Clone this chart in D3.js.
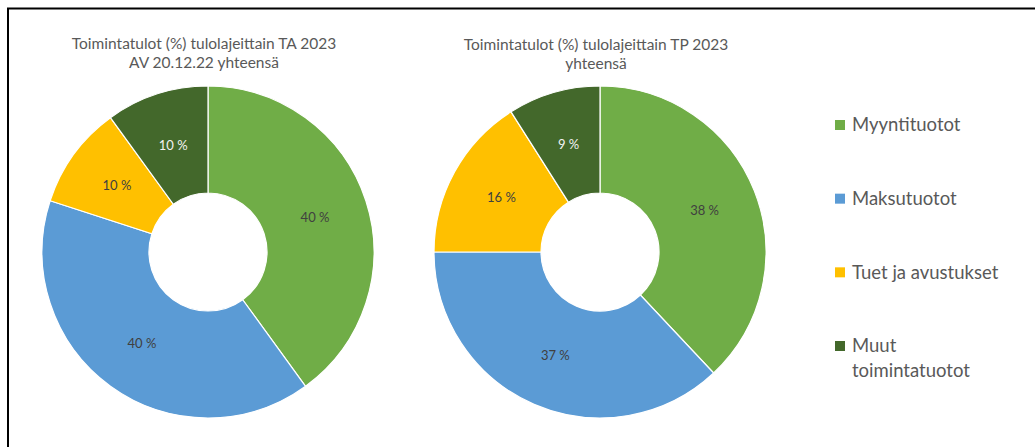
<!DOCTYPE html>
<html>
<head>
<meta charset="utf-8">
<script src="https://cdn.jsdelivr.net/npm/d3@7"></script>
<style>
  body { margin: 0; background: #fff; }
  text { font-family: Lato, "Noto Sans", sans-serif; }
</style>
</head>
<body>
<div id="chart"></div>
<script>
// categories + values
var categories = ["Myyntituotot", "Maksutuotot", "Tuet ja avustukset", "Muut toimintatuotot"];
var valuesTA = [40, 40, 10, 10];
var valuesTP = [38, 37, 16, 9];
var titleTA = ["Toimintatulot (%) tulolajeittain TA 2023", "AV 20.12.22 yhteensä"];
var titleTP = ["Toimintatulot (%) tulolajeittain TP 2023", "yhteensä"];
var legendLines = [["Myyntituotot"], ["Maksutuotot"], ["Tuet ja avustukset"], ["Muut", "toimintatuotot"]];

var width = 1035, height = 447;
var outerR = 166, innerR = 59;

var color = d3.scaleOrdinal()
  .domain(categories)
  .range(["#70AD47", "#5B9BD5", "#FFC000", "#43682B"]);

var svg = d3.select("#chart").append("svg")
  .attr("width", width)
  .attr("height", height);

// frame (only top + left visible in the picture)
svg.append("rect")
  .attr("x", 8)
  .attr("y", 8.5)
  .attr("width", 1200)
  .attr("height", 600)
  .attr("fill", "none")
  .attr("stroke", "#000")
  .attr("stroke-width", 2);

var pie = d3.pie().sort(null);
var arc = d3.arc().innerRadius(innerR).outerRadius(outerR);

function drawDonut(values, title, cx, cy, titleY) {
  var g = svg.append("g").attr("transform", "translate(" + cx + "," + cy + ")");

  var slices = pie(values);

  g.selectAll("path")
    .data(slices)
    .enter().append("path")
    .attr("d", arc)
    .attr("fill", function(d, i) { return color(categories[i]); })
    .attr("stroke", "#fff")
    .attr("stroke-width", 1.2);

  g.selectAll("text.lbl")
    .data(slices)
    .enter().append("text")
    .attr("class", "lbl")
    .attr("transform", function(d) { return "translate(" + arc.centroid(d) + ")"; })
    .attr("dy", "0.35em")
    .attr("text-anchor", "middle")
    .style("font-size", "13px")
    .style("fill", function(d, i) { return i == 3 ? "#f2f2f2" : "#404040"; })
    .text(function(d) { return d.data + " %"; });

  svg.selectAll(null)
    .data(title)
    .enter().append("text")
    .attr("x", cx - 4)
    .attr("y", function(d, i) { return titleY + i * 19; })
    .attr("text-anchor", "middle")
    .style("font-size", "15.5px")
    .style("fill", "#595959")
    .text(function(d) { return d; });
}

drawDonut(valuesTA, titleTA, 208, 252, 49);
drawDonut(valuesTP, titleTP, 600, 252, 50);

// legend
var legend = svg.append("g").attr("transform", "translate(835,0)");
var rowY = d3.scalePoint().domain(categories).range([125, 346]);

var item = legend.selectAll("g")
  .data(categories)
  .enter().append("g")
  .attr("transform", function(d) { return "translate(0," + rowY(d) + ")"; });

item.append("rect")
  .attr("x", 0)
  .attr("y", -5)
  .attr("width", 10)
  .attr("height", 10)
  .attr("fill", function(d) { return color(d); });

item.each(function(d, i) {
  d3.select(this).selectAll("text")
    .data(legendLines[i])
    .enter().append("text")
    .attr("x", 17)
    .attr("y", function(t, j) { return j * 25; })
    .attr("dy", "0.35em")
    .style("font-size", "18.5px")
    .style("fill", "#595959")
    .text(function(t) { return t; });
});
</script>
</body>
</html>
